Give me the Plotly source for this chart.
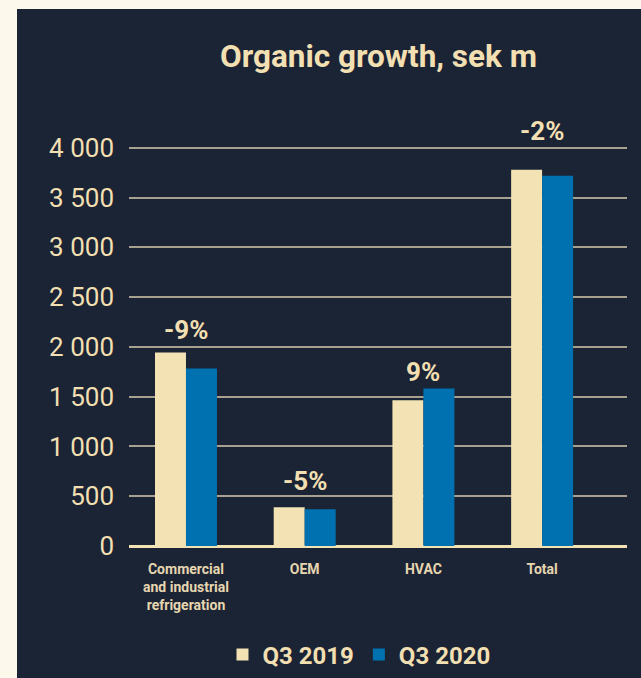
import plotly.graph_objects as go

# Organic sales by segment, SEK million
categories = ["Commercial<br>and industrial<br>refrigeration", "OEM", "HVAC", "Total"]
q3_2019 = [1943, 389, 1464, 3779]
q3_2020 = [1782, 369, 1581, 3719]
growth_labels = ["-9%", "-5%", "9%", "-2%"]
y_ticks = [0, 500, 1000, 1500, 2000, 2500, 3000, 3500, 4000]

# vertical offset (px) of each growth label above its taller bar
label_lift = [23, 26, 17, 39]

W, H = 641, 678
NAVY = "#1b2434"
CREAM = "#f3e2b4"
BLUE = "#0071b0"
TEXT = "#f2dfb2"
OUTER = "#fdf8ec"

M_L, M_R, M_T, M_B = 129, 14, 108, 132
plot_w = W - M_L - M_R
plot_h = H - M_T - M_B

fig = go.Figure()
fig.add_trace(go.Bar(name="Q3 2019", x=categories, y=q3_2019,
                     marker=dict(color=CREAM, line=dict(width=0))))
fig.add_trace(go.Bar(name="Q3 2020", x=categories, y=q3_2020,
                     marker=dict(color=BLUE, line=dict(width=0))))

# growth labels above each pair of bars
for cat, a, b, lab, lift in zip(categories, q3_2019, q3_2020, growth_labels, label_lift):
    fig.add_annotation(x=cat, y=max(a, b), text=f"<b>{lab}</b>", showarrow=False,
                       yanchor="middle", yshift=lift,
                       font=dict(family="Roboto", size=26, color=TEXT))

# cream frame around the dark panel (left and top strips)
def px_to_paper_x(px):
    return (px - M_L) / plot_w

def px_to_paper_y(py):
    return (H - M_B - py) / plot_h

fig.add_shape(type="rect", xref="paper", yref="paper", layer="above",
              x0=px_to_paper_x(-5), x1=px_to_paper_x(17),
              y0=px_to_paper_y(H + 5), y1=px_to_paper_y(-5),
              fillcolor=OUTER, line=dict(width=0))
fig.add_shape(type="rect", xref="paper", yref="paper", layer="above",
              x0=px_to_paper_x(-5), x1=px_to_paper_x(W + 5),
              y0=px_to_paper_y(9), y1=px_to_paper_y(-5),
              fillcolor=OUTER, line=dict(width=0))

fig.update_layout(
    width=W, height=H,
    margin=dict(l=M_L, r=M_R, t=M_T, b=M_B),
    paper_bgcolor=NAVY, plot_bgcolor=NAVY,
    barmode="group", bargap=0.478, bargroupgap=0,
    separators=". ",
    font=dict(family="Roboto", color=TEXT),
    title=dict(text="<b>Organic growth, sek m</b>", x=px_to_paper_x(378.5), xref="paper",
               xanchor="center", y=1 - 56 / H, yref="container", yanchor="middle",
               font=dict(family="Roboto", size=31.5, color=TEXT)),
    showlegend=True,
    legend=dict(orientation="h", x=px_to_paper_x(359), xanchor="center", xref="paper",
                y=1 - 655 / H, yref="container", yanchor="middle",
                font=dict(family="Roboto", size=24, color=TEXT, weight="bold"),
                bgcolor="rgba(0,0,0,0)", itemwidth=30, traceorder="normal"),
    xaxis=dict(range=[-0.48, 3.715], showgrid=False, zeroline=False, showline=False,
               ticks="", tickfont=dict(family="Roboto", size=14, color="#e6d6b0", weight="bold"),
               ticklabelstandoff=13, fixedrange=True),
    yaxis=dict(range=[0, 4400], tickvals=y_ticks, tickformat=",d",
               showgrid=True, gridcolor="#a9a190", gridwidth=2,
               zeroline=True, zerolinecolor=CREAM, zerolinewidth=3,
               showline=False, ticks="", ticklabelstandoff=14,
               tickfont=dict(family="Roboto", size=26, color=TEXT)),
)

fig.write_html("out.html")
